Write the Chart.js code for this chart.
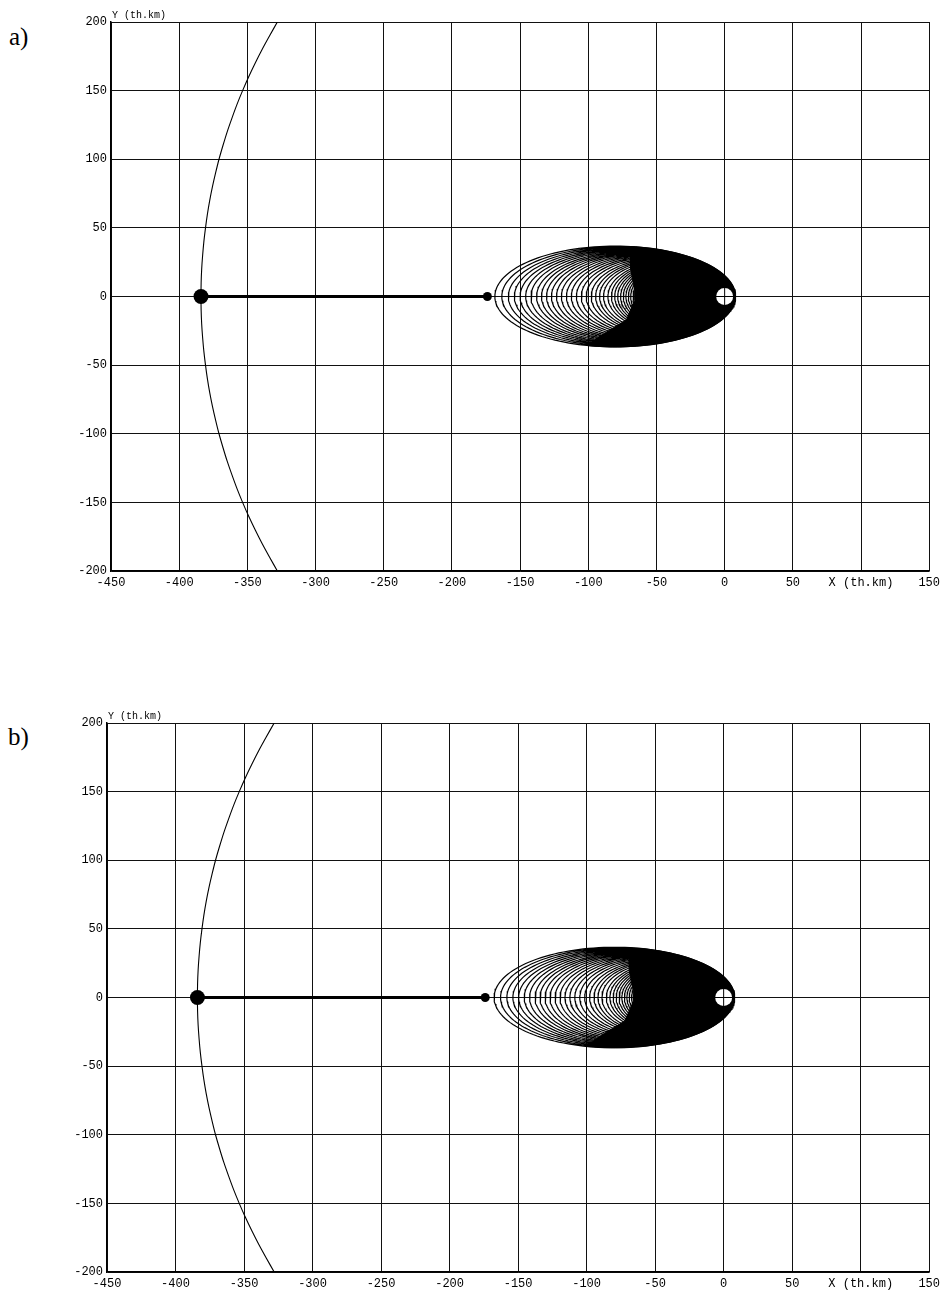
<!DOCTYPE html>
<html><head><meta charset="utf-8">
<script src="https://cdn.jsdelivr.net/npm/chart.js@4.4.0/dist/chart.umd.min.js"></script>
<style>
html,body{margin:0;padding:0;background:#fff;width:945px;height:1295px;overflow:hidden;position:relative}
canvas{position:absolute;left:0}
.lbl{position:absolute;font-family:'Liberation Serif','Times New Roman',serif;font-size:25px;line-height:25px;color:#000}
</style></head><body>
<div class="lbl" style="left:9px;top:24px">a)</div>
<div class="lbl" style="left:8px;top:724px">b)</div>
<canvas id="ca" width="945" height="610" style="top:0"></canvas>
<canvas id="cb" width="945" height="610" style="top:700px"></canvas>
<script>
// ---------- data (thousand km) ----------
const xMin = -450, xMax = 150, yMin = -200, yMax = 200, tickStep = 50;
const xNameTick = 100;
const xAxisName = 'X (th.km)';
const yAxisName = 'Y (th.km)';

// Moon orbit arc
const moonArcY = [200, 190, 180, 170, 160, 150, 140, 130, 120, 110, 100, 90, 80, 70, 60, 50, 40, 30, 20, 10, 0,
                  -10, -20, -30, -40, -50, -60, -70, -80, -90, -100, -110, -120, -130, -140, -150, -160, -170, -180, -190, -200];
const moonArcX = [-328, -333.7, -339.2, -344.3, -349.1, -353.5, -357.6, -361.3, -364.8, -367.9, -370.8, -373.3, -375.6, -377.6, -379.3, -380.7, -381.9, -382.8, -383.5, -383.9, -384,
                  -383.9, -383.5, -382.8, -381.9, -380.7, -379.3, -377.6, -375.6, -373.3, -370.8, -367.9, -364.8, -361.3, -357.6, -353.5, -349.1, -344.3, -339.2, -333.7, -328];

const moonPos = [-384, 0];
const departPosA = [-174, 0];
const departPosB = [-174, 0];
const earthPos = [0, 0];

// transfer orbits: perigee distance and apogee distances of the visible loops
const perigeeDist = 8;
const apogeeDistA = [168.5, 163.4, 158.6, 154.2, 150, 145.9, 142, 137.9, 134.3, 130.6, 127, 123.3, 119.7, 116, 112.4, 108.7, 105.1, 101.5, 97.8, 94.6, 91.7, 88.8, 85.6, 83, 80.6, 78.4, 76.3, 74.3, 72.4, 70.6, 68.9, 67.2, 65.6, 64, 62.5, 61, 59.6, 58.2];
const apogeeDistB = [167.5, 162.8, 158.2, 153.8, 149.6, 145.5, 141.6, 137.6, 134, 130.3, 126.7, 123, 119.4, 115.8, 112.2, 108.6, 105, 101.4, 97.8, 94.6, 91.7, 88.8, 85.6, 83, 80.6, 78.4, 76.3, 74.3, 72.4, 70.6, 68.9, 67.2, 65.6, 64, 62.5, 61, 59.6, 58.2];

// solid dark core of the loops: junctions with outer loop and left edge (bottom -> top)
const coreTopX = -69, coreBottomX = -100;
const coreEdgeX = [-90, -72, -66, -66, -69];
const coreEdgeY = [-28, -17, -3, 5, 20];

// ---------- helpers ----------
function orbitPath(apogees, rp, n) {
  const pts = [];
  apogees.forEach(ra => {
    const a = (ra + rp) / 2, cx = (rp - ra) / 2, b = Math.sqrt(ra * rp);
    for (let i = 0; i <= n; i++) {
      const t = 2 * Math.PI * i / n;
      pts.push({x: cx + a * Math.cos(t), y: b * Math.sin(t)});
    }
  });
  return pts;
}
function corePath(ra, rp) {
  const a = (ra + rp) / 2, cx = (rp - ra) / 2, b = Math.sqrt(ra * rp);
  const tTop = Math.acos((coreTopX - cx) / a);
  const tBot = Math.acos((coreBottomX - cx) / a);
  const pts = [];
  const n = 80;
  for (let i = 0; i <= n; i++) {
    const t = tTop - (tTop + tBot) * i / n;
    pts.push({x: cx + a * Math.cos(t), y: b * Math.sin(t)});
  }
  for (let i = 0; i < coreEdgeX.length; i++) pts.push({x: coreEdgeX[i], y: coreEdgeY[i]});
  pts.push(pts[0]);
  return pts;
}

const axisNamePlugin = {
  id: 'axisName',
  afterDraw(chart) {
    const {ctx, chartArea} = chart;
    ctx.save();
    ctx.font = '10px "Liberation Mono", monospace';
    ctx.fillStyle = '#000';
    ctx.textBaseline = 'bottom';
    ctx.textAlign = 'left';
    ctx.fillText(yAxisName, chartArea.left + 1, chartArea.top - 2);
    ctx.restore();
  }
};

function makeChart(id, apogees, departPos, pad, yWidth) {
  const moonArc = moonArcX.map((x, i) => ({x, y: moonArcY[i]}));
  const tickFont = {family: '"Liberation Mono", monospace', size: 12};
  const datasets = [
    {data: [{x: earthPos[0] - 7, y: earthPos[1]}, {x: earthPos[0] + 7, y: earthPos[1]}], showLine: true, borderColor: '#000', borderWidth: 1, pointRadius: 0, order: 0},
    {data: [{x: earthPos[0], y: earthPos[1] - 7}, {x: earthPos[0], y: earthPos[1] + 7}], showLine: true, borderColor: '#000', borderWidth: 1, pointRadius: 0, order: 0},
    {data: [{x: earthPos[0], y: earthPos[1]}], pointRadius: 8.5, pointBackgroundColor: '#fff', pointBorderWidth: 0, pointBorderColor: '#fff', order: 1},
    {data: [{x: moonPos[0], y: moonPos[1]}], pointRadius: 7.5, pointBackgroundColor: '#000', pointBorderWidth: 0, order: 2},
    {data: [{x: departPos[0], y: departPos[1]}], pointRadius: 4.5, pointBackgroundColor: '#000', pointBorderWidth: 0, order: 2},
    {data: [{x: moonPos[0], y: moonPos[1]}, {x: departPos[0], y: departPos[1]}], showLine: true, borderColor: '#000', borderWidth: 3, pointRadius: 0, order: 3},
    {data: corePath(apogees[0], perigeeDist), showLine: true, fill: 'shape', backgroundColor: '#000', borderColor: '#000', borderWidth: 1, pointRadius: 0, order: 4},
    {data: orbitPath(apogees, perigeeDist, 144), showLine: true, borderColor: '#000', borderWidth: 1.2, pointRadius: 0, tension: 0, order: 5},
    {data: moonArc, showLine: true, borderColor: '#000', borderWidth: 1.1, pointRadius: 0, tension: 0.3, order: 6}
  ];
  return new Chart(document.getElementById(id), {
    type: 'scatter',
    data: {datasets},
    options: {
      responsive: false, animation: false, devicePixelRatio: 1,
      layout: {padding: pad},
      plugins: {legend: {display: false}, tooltip: {enabled: false}},
      elements: {line: {borderCapStyle: 'round'}},
      scales: {
        x: {
          type: 'linear', min: xMin, max: xMax,
          afterFit(s) { s.height = 30; },
          grid: {color: '#111', lineWidth: 1, drawTicks: false},
          border: {color: '#000', width: 1.5},
          ticks: {stepSize: tickStep, autoSkip: false, maxRotation: 0, padding: 5, color: '#000',
            font: tickFont,
            callback: v => v === xNameTick ? xAxisName : String(v)}
        },
        y: {
          type: 'linear', min: yMin, max: yMax,
          afterFit(s) { s.width = yWidth; },
          grid: {color: '#111', lineWidth: 1, drawTicks: false},
          border: {color: '#000', width: 1.5},
          ticks: {stepSize: tickStep, autoSkip: false, padding: 4, color: '#000',
            font: tickFont,
            callback: v => String(v)}
        }
      }
    },
    plugins: [axisNamePlugin]
  });
}

makeChart('ca', apogeeDistA, departPosA, {left: 0, top: 22, right: 11, bottom: 9}, 111);
makeChart('cb', apogeeDistB, departPosB, {left: 0, top: 23, right: 14, bottom: 8}, 107);
</script>
</body></html>
